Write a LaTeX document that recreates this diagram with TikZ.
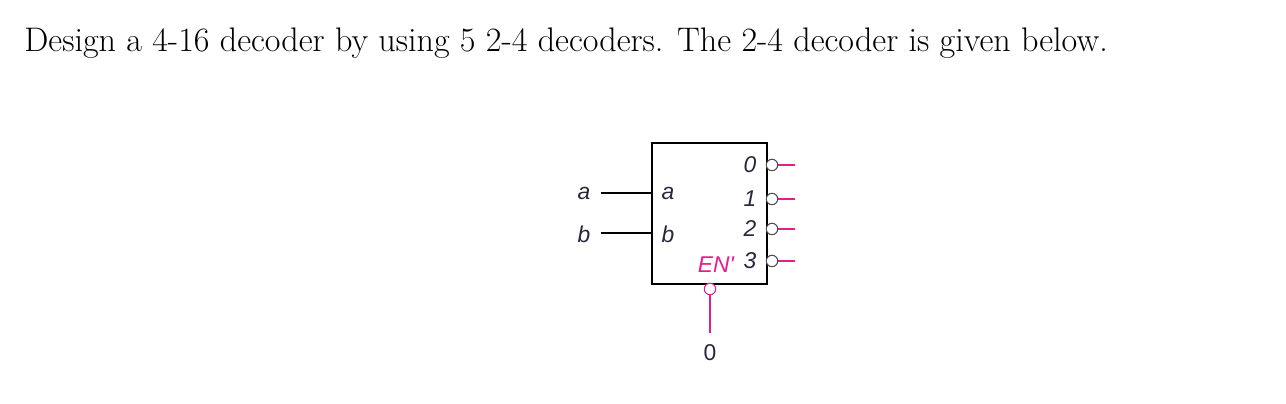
\documentclass[tikz,border=0pt]{standalone}
\usepackage{fontspec}
\newfontfamily\lblfont{Liberation Sans}
\definecolor{enpink}{RGB}{228,30,140}
\definecolor{lbltext}{RGB}{40,40,60}
\tikzset{
  lbl/.style={font=\lblfont\itshape\fontsize{13}{13}\selectfont, text=lbltext, inner sep=0pt},
  bub/.style={circle, draw=black!70, fill=white, minimum size=6.5pt, inner sep=0pt, line width=0.6pt},
}
\begin{document}
\begin{tikzpicture}[x=0.02cm,y=-0.02cm]
    \useasboundingbox (0,0) rectangle (1286,404);

    % problem statement
    \node[anchor=base west, inner sep=0pt, font=\fontsize{19.4}{23}\selectfont] (title) at (24,52)
        {Design a 4-16 decoder by using 5 2-4 decoders. The 2-4 decoder is given below.};

    % decoder block
    \draw[line width=0.9pt] (652,143) rectangle (767,284);
    \node[lbl] (ain) at (668,193) {a};
    \node[lbl] (bin) at (668,234) {b};
    \node[lbl] (aext) at (584,193) {a};
    \node[lbl] (bext) at (584,234) {b};
    \draw[line width=0.9pt] (601,193) -- (652,193);
    \draw[line width=0.9pt] (601,233) -- (652,233);

    % outputs
    \foreach \k/\yy in {0/165, 1/199, 2/229, 3/261} {
        \node[lbl] (o\k) at (750,\yy) {\k};
        \draw[enpink, line width=1pt] (776,\yy) -- (795,\yy);
        \node[bub] (q\k) at (772,\yy) {};
    }

    % enable
    \node[lbl, text=enpink] (en) at (716,265) {EN'};
    \draw[enpink, line width=1pt] (710,292) -- (710,333);
    \node[bub, draw=enpink] (enb) at (710,289) {};
    \node[lbl, font=\lblfont\fontsize{13}{13}\selectfont] (zero) at (710,353) {0};
\end{tikzpicture}
\end{document}
